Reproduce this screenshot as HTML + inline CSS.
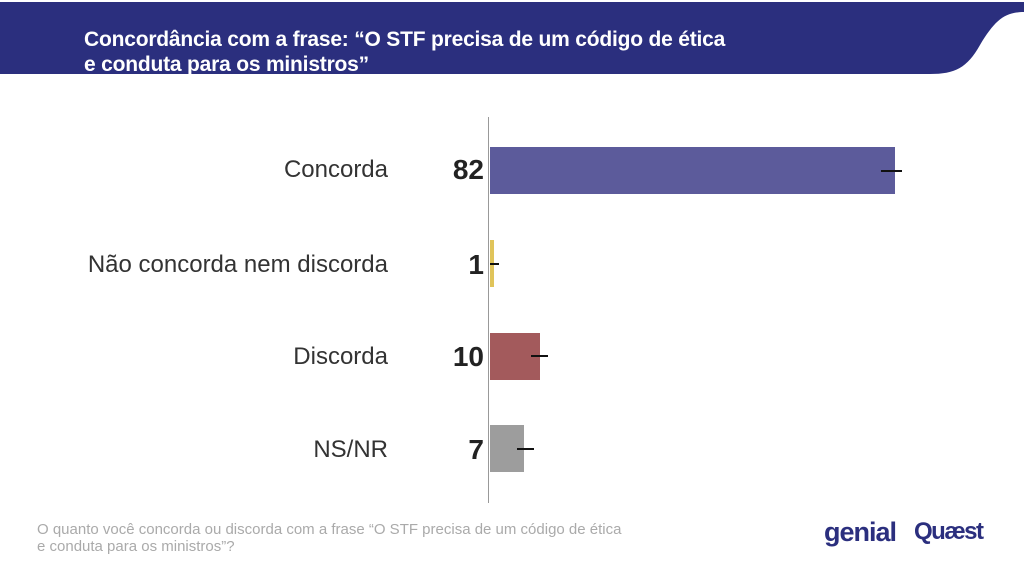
<!DOCTYPE html>
<html><head><style>
body{margin:0;width:1024px;height:573px;background:#fff;position:relative;overflow:hidden;font-family:"Liberation Sans",sans-serif}
.t{position:absolute;color:#fff;font-weight:bold;font-size:21px;left:84px;line-height:25px;top:27px;letter-spacing:-0.2px;white-space:nowrap}
.l{position:absolute;right:636px;font-size:24px;color:#333;text-align:right;white-space:nowrap}
.n{position:absolute;right:540px;font-size:28px;font-weight:bold;color:#222}
.b{position:absolute;left:490px}
.e{position:absolute;height:2px;background:#111}
</style></head><body>
<svg style="position:absolute;left:0;top:0" width="1024" height="80">
<path d="M0 2 H1024 V12 C1005 12 995 20 980 45 C967 68 955 74 930 74 H0 Z" fill="#2b2f7e"/>
</svg>
<div class="t">Concordância com a frase: “O STF precisa de um código de ética<br>e conduta para os ministros”</div>
<div style="position:absolute;left:488px;top:117px;width:1px;height:386px;background:#999"></div>
<div class="l" style="top:156px">Concorda</div>
<div class="l" style="top:251px">Não concorda nem discorda</div>
<div class="l" style="top:343px">Discorda</div>
<div class="l" style="top:436px">NS/NR</div>
<div class="n" style="top:154px">82</div>
<div class="n" style="top:249px">1</div>
<div class="n" style="top:341px">10</div>
<div class="n" style="top:434px">7</div>
<div class="b" style="top:147px;width:405px;height:47px;background:#5c5b9b"></div>
<div class="b" style="top:240px;width:4px;height:47px;background:#e0c45a"></div>
<div class="b" style="top:333px;width:50px;height:47px;background:#a35a5c"></div>
<div class="b" style="top:425px;width:34px;height:47px;background:#9d9d9d"></div>
<div class="e" style="left:881px;width:21px;top:170px"></div>
<div class="e" style="left:490px;width:9px;top:263px"></div>
<div class="e" style="left:531px;width:17px;top:355px"></div>
<div class="e" style="left:517px;width:17px;top:448px"></div>
<div style="position:absolute;left:37px;top:521px;font-size:15px;color:#aaa;line-height:17px;white-space:nowrap">O quanto você concorda ou discorda com a frase “O STF precisa de um código de ética<br>e conduta para os ministros”?</div>
<div style="position:absolute;left:824px;top:517px;font-size:27px;color:#2b2f7e;font-weight:bold;letter-spacing:-1px">genial</div>
<div style="position:absolute;left:914px;top:518px;font-size:24px;color:#2b2f7e;font-weight:bold;letter-spacing:-1.5px">Quæst</div>
</body></html>
